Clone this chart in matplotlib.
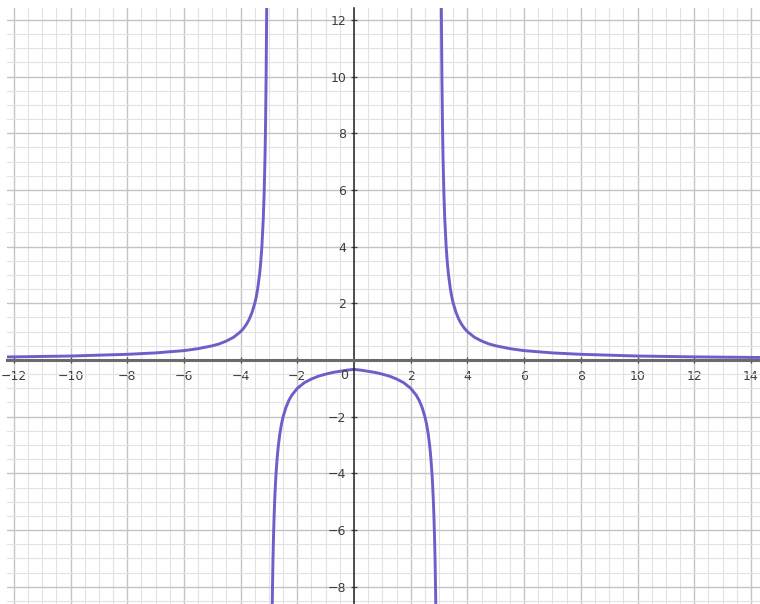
import numpy as np
import matplotlib.pyplot as plt
from matplotlib.ticker import MultipleLocator

# points, one list pair per branch
right_x = [3.08, 3.10, 3.12, 3.14, 3.17, 3.20, 3.25, 3.29, 3.33, 3.40, 3.45, 3.50, 3.60,
           3.70, 3.80, 3.90, 4.00, 4.25, 4.50, 4.75, 5.00, 5.50, 6.00, 6.50, 7.00, 8.00,
           9.00, 10.0, 11.0, 12.0, 13.0, 14.4]
right_y = [12.4, 10.0, 8.33, 7.14, 5.88, 5.00, 4.00, 3.45, 3.03, 2.50, 2.22, 2.00, 1.67,
           1.43, 1.25, 1.11, 1.00, 0.80, 0.67, 0.57, 0.50, 0.40, 0.33, 0.29, 0.25, 0.20,
           0.17, 0.14, 0.125, 0.11, 0.10, 0.088]

left_x = [-12.3, -12.0, -11.0, -10.0, -9.00, -8.00, -7.00, -6.50, -6.00, -5.50, -5.00,
          -4.75, -4.50, -4.25, -4.00, -3.90, -3.80, -3.70, -3.60, -3.50, -3.45, -3.40,
          -3.33, -3.29, -3.25, -3.20, -3.17, -3.14, -3.12, -3.10, -3.08]
left_y = [0.108, 0.11, 0.125, 0.14, 0.17, 0.20, 0.25, 0.29, 0.33, 0.40, 0.50,
          0.57, 0.67, 0.80, 1.00, 1.11, 1.25, 1.43, 1.67, 2.00, 2.22, 2.50,
          3.03, 3.45, 4.00, 5.00, 5.88, 7.14, 8.33, 10.0, 12.4]

mid_x = [-2.884, -2.87, -2.86, -2.84, -2.82, -2.80, -2.77, -2.75, -2.71, -2.67, -2.62,
         -2.56, -2.50, -2.40, -2.30, -2.20, -2.00, -1.75, -1.50, -1.25, -1.00, -0.75,
         -0.50, -0.25, 0.00, 0.25, 0.50, 0.75, 1.00, 1.25, 1.50, 1.75, 2.00, 2.20,
         2.30, 2.40, 2.50, 2.56, 2.62, 2.67, 2.71, 2.75, 2.77, 2.80, 2.82, 2.84,
         2.86, 2.87, 2.884]
mid_y = [-8.6, -7.7, -7.1, -6.25, -5.56, -5.00, -4.35, -4.00, -3.45, -3.03, -2.63,
         -2.27, -2.00, -1.67, -1.43, -1.25, -1.00, -0.80, -0.67, -0.57, -0.50, -0.44,
         -0.40, -0.36, -0.33, -0.36, -0.40, -0.44, -0.50, -0.57, -0.67, -0.80, -1.00, -1.25,
         -1.43, -1.67, -2.00, -2.27, -2.63, -3.03, -3.45, -4.00, -4.35, -5.00, -5.56, -6.25,
         -7.1, -7.7, -8.6]

x_ticks = [-12, -10, -8, -6, -4, -2, 2, 4, 6, 8, 10, 12, 14]
y_ticks = [-8, -6, -4, -2, 2, 4, 6, 8, 10, 12]

curve_col = '#6b5fc8'
label_col = '#3c3c3c'

fig = plt.figure(figsize=(7.6, 6.04), dpi=100)
ax = fig.add_axes([7 / 760, 0, 753 / 760, 596 / 604])
ax.set_xlim(-12.24, 14.32)
ax.set_ylim(-8.61, 12.42)

ax.xaxis.set_major_locator(MultipleLocator(2))
ax.yaxis.set_major_locator(MultipleLocator(2))
ax.xaxis.set_minor_locator(MultipleLocator(0.5))
ax.yaxis.set_minor_locator(MultipleLocator(0.5))
ax.grid(which='minor', color='#e2e2e2', linewidth=0.8)
ax.grid(which='major', color='#c4c4c4', linewidth=1.0)
ax.set_axisbelow(True)

for s in ['top', 'right']:
    ax.spines[s].set_visible(False)
ax.spines['left'].set_position('zero')
ax.spines['bottom'].set_position('zero')
ax.spines['left'].set_color('#222222')
ax.spines['left'].set_linewidth(1.1)
ax.spines['bottom'].set_color('#6a6a6a')
ax.spines['bottom'].set_linewidth(2.2)

ax.set_xticks(x_ticks)
ax.set_yticks(y_ticks)
ax.tick_params(which='major', direction='inout', length=5, width=0.9, color='#444444',
               labelsize=9, labelcolor=label_col, pad=3)
ax.tick_params(axis='x', pad=5)
ax.tick_params(which='minor', length=0)
ax.text(-0.22, -0.32, '0', ha='right', va='top', fontsize=9, color=label_col)

for bx, by in [(left_x, left_y), (mid_x, mid_y), (right_x, right_y)]:
    ax.plot(bx, by, color=curve_col, linewidth=2.1, solid_capstyle='round', clip_on=True)

fig.savefig('out.png', dpi=100)
